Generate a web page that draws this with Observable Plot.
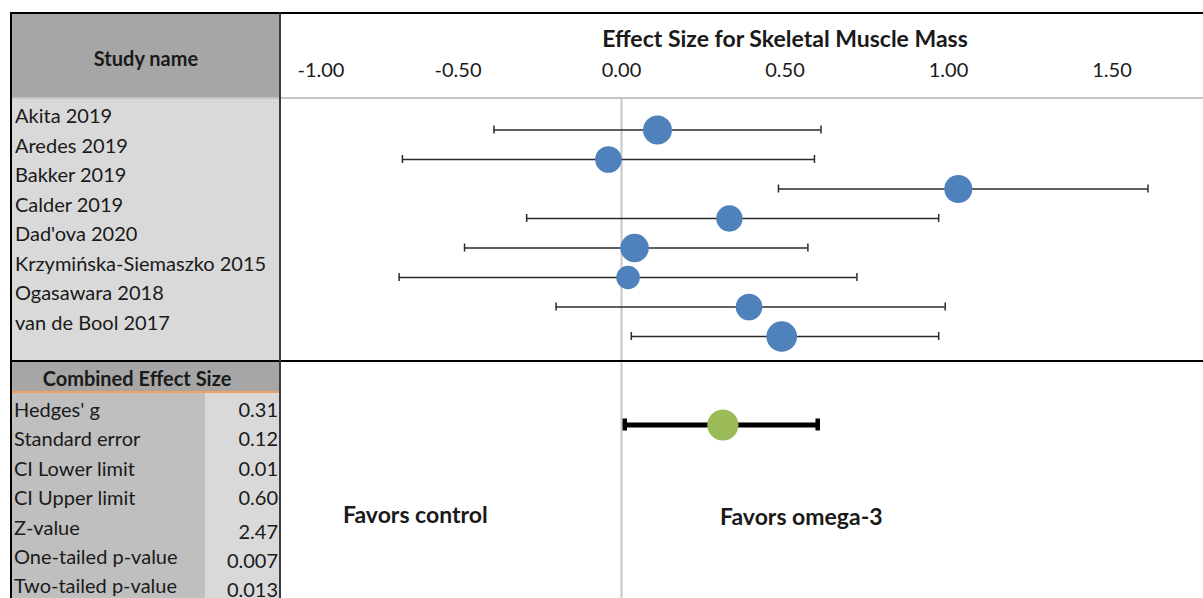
<!DOCTYPE html>
<html><head><meta charset="utf-8">
<script src="https://cdn.jsdelivr.net/npm/d3@7"></script>
<script src="https://cdn.jsdelivr.net/npm/@observablehq/plot@0.6"></script>
<style>
body{margin:0;background:#fff;font-family:Lato,sans-serif;color:#1a1a1a;}
#wrap{position:relative;width:1203px;height:598px;overflow:hidden;background:#fff;}
.a{position:absolute;box-sizing:border-box;}
.t{font-size:20px;white-space:nowrap;}
.b{font-weight:bold;}
.big{font-size:23px;}
</style></head><body><div id="wrap"></div>
<script>
// ---- data ----
const studies = ["Akita 2019","Aredes 2019","Bakker 2019","Calder 2019","Dad'ova 2020","Krzymińska-Siemaszko 2015","Ogasawara 2018","van de Bool 2017"];
const effect  = [0.11, -0.04, 1.03, 0.33, 0.04, 0.02, 0.39, 0.49];
const lower   = [-0.39, -0.67, 0.48, -0.29, -0.48, -0.68, -0.20, 0.03];
const upper   = [0.61, 0.59, 1.61, 0.97, 0.57, 0.72, 0.99, 0.97];
const weights = [13.9, 11.7, 13.0, 11.5, 13.5, 9.2, 11.7, 15.5];
const combinedLabel = "Combined";
const combinedEffect = 0.31, combinedLower = 0.01, combinedUpper = 0.60;
const summaryLabels = ["Hedges' g","Standard error","CI Lower limit","CI Upper limit","Z-value","One-tailed p-value","Two-tailed p-value"];
const summaryValues = ["0.31","0.12","0.01","0.60","2.47","0.007","0.013"];
const tickValues = [-1, -0.5, 0, 0.5, 1, 1.5];
const title = "Effect Size for Skeletal Muscle Mass";
const favorsLeft = "Favors control", favorsRight = "Favors omega-3";

// ---- build ----
const wrap = document.getElementById("wrap");
function box(css, text, cls){const d=document.createElement("div");d.className="a "+(cls||"");d.style.cssText=css;if(text!=null)d.textContent=text;wrap.appendChild(d);return d;}

const rows = studies.map((s,i)=>({study:s, effect:effect[i], lower:lower[i], upper:upper[i], weight:weights[i]}));
const comb = [{study:combinedLabel, effect:combinedEffect, lower:combinedLower, upper:combinedUpper}];
const yDomain = [...studies, "gap1", "gap2", combinedLabel];

const chart = Plot.plot({
  width: 923, height: 585,
  marginLeft: 0, marginRight: 0, marginTop: 85, marginBottom: 0,
  style: {fontFamily: "Lato, sans-serif", fontSize: "20px", background: "transparent", color: "#1a1a1a"},
  x: {domain: [-341/327, 582/327], axis: null},
  y: {type: "band", domain: yDomain, range: [101.75, 426.25], padding: 0, round: false, axis: null},
  r: {domain: [0, 15.5], range: [0, 15.3]},
  marks: [
    Plot.ruleX([0], {stroke: "#c8c8c8", strokeWidth: 2}),
    Plot.text(tickValues.filter(v => v !== -1), {x: d => d, frameAnchor: "top", lineAnchor: "middle", dy: -28, text: d => d.toFixed(2), fill: "#1a1a1a"}),
    Plot.text(tickValues.filter(v => v === -1), {x: d => d, frameAnchor: "top", lineAnchor: "middle", dy: -28, dx: 3, textAnchor: "start", text: d => d.toFixed(2), fill: "#1a1a1a"}),
    Plot.ruleY(rows, {y: "study", x1: "lower", x2: "upper", stroke: "#2b2b2b", strokeWidth: 1.5}),
    Plot.tickX(rows, {x: "lower", y: "study", stroke: "#2b2b2b", strokeWidth: 1.5, insetTop: 10.75, insetBottom: 10.75}),
    Plot.tickX(rows, {x: "upper", y: "study", stroke: "#2b2b2b", strokeWidth: 1.5, insetTop: 10.75, insetBottom: 10.75}),
    Plot.dot(rows, {x: "effect", y: "study", r: "weight", fill: "#4f81bd"}),
    Plot.ruleY(comb, {y: "study", x1: "lower", x2: "upper", stroke: "#000", strokeWidth: 5}),
    Plot.tickX(comb, {x: "lower", y: "study", stroke: "#000", strokeWidth: 4.5, insetTop: 8.75, insetBottom: 8.75}),
    Plot.tickX(comb, {x: "upper", y: "study", stroke: "#000", strokeWidth: 4.5, insetTop: 8.75, insetBottom: 8.75}),
    Plot.dot(comb, {x: "effect", y: "study", r: 15.6, fill: "#9bbb59"})
  ]
});
chart.style.position = "absolute";
chart.style.left = "280px";
chart.style.top = "13px";
wrap.appendChild(chart);

// table structure (left panel)
box("left:12px;top:13px;width:268px;height:85px;background:#a6a6a6;");
box("left:12px;top:99px;width:268px;height:262px;background:#d9d9d9;");
box("left:12px;top:362px;width:268px;height:30px;background:#a6a6a6;");
box("left:12px;top:393px;width:193px;height:205px;background:#bfbfbf;");
box("left:205px;top:393px;width:75px;height:205px;background:#d9d9d9;");
box("left:12px;top:391px;width:268px;height:2px;background:#f5a05a;");
box("left:12px;top:97px;width:1191px;height:2px;background:#c4c4c4;");
box("left:11px;top:360px;width:1192px;height:2px;background:#000;");
box("left:11px;top:12px;width:1192px;height:2px;background:#000;");
box("left:10px;top:12px;width:2px;height:586px;background:#000;");
box("left:279px;top:13px;width:2px;height:585px;background:#3a3a3a;");

box("left:12px;top:44px;width:268px;height:28px;line-height:28px;text-align:center;", "Study name", "t b");
box("left:280px;top:23px;width:1010px;height:30px;line-height:30px;text-align:center;", title, "t b big");
studies.forEach((s,i)=>box(`left:15px;top:${101 + i*29.57}px;height:28px;line-height:28px;`, s, "t"));
box("left:12px;top:364px;width:250px;height:28px;line-height:28px;text-align:center;", "Combined Effect Size", "t b");
summaryLabels.forEach((s,i)=>box(`left:14px;top:${395 + i*29.4}px;height:28px;line-height:28px;`, s, "t"));
summaryValues.forEach((s,i)=>box(`left:205px;width:73px;text-align:right;top:${401 + i*29.4 + (i>=4?4:0)}px;height:16px;line-height:16px;`, s, "t"));
box("left:343px;top:499px;height:30px;line-height:30px;", favorsLeft, "t b big");
box("left:720px;top:501px;height:30px;line-height:30px;", favorsRight, "t b big");
</script>
</body></html>
